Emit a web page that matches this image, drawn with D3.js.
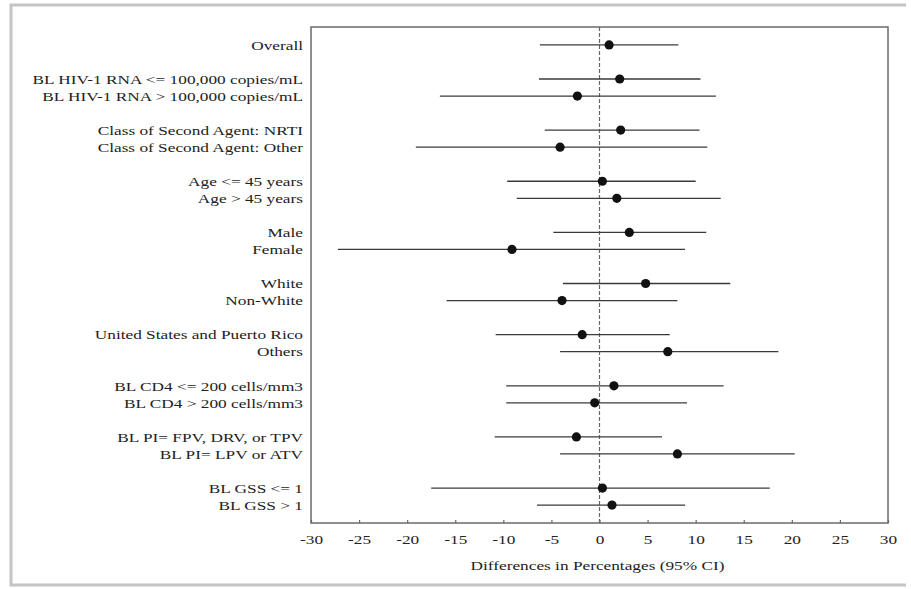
<!DOCTYPE html>
<html>
<head>
<meta charset="utf-8">
<script src="https://cdn.jsdelivr.net/npm/d3@7"></script>
<style>
  html, body { margin: 0; padding: 0; background: #fff; }
  svg { display: block; }
  text { font-family: "Liberation Serif", "DejaVu Serif", serif; fill: #222; }
</style>
</head>
<body>
<svg id="chart" width="911" height="589"></svg>
<script>
// Subgroup labels, top to bottom ("" marks a blank spacer row between groups)
const categories = [
  "Overall", "",
  "BL HIV-1 RNA <= 100,000 copies/mL", "BL HIV-1 RNA > 100,000 copies/mL", "",
  "Class of Second Agent: NRTI", "Class of Second Agent: Other", "",
  "Age <= 45 years", "Age > 45 years", "",
  "Male", "Female", "",
  "White", "Non-White", "",
  "United States and Puerto Rico", "Others", "",
  "BL CD4 <= 200 cells/mm3", "BL CD4 > 200 cells/mm3", "",
  "BL PI= FPV, DRV, or TPV", "BL PI= LPV or ATV", "",
  "BL GSS <= 1", "BL GSS > 1"
];

// Differences in percentages with 95% CI, one entry per labelled row
const estimates = [1.0, 2.1, -2.3, 2.2, -4.1, 0.3, 1.8, 3.1, -9.1, 4.8, -3.9, -1.8, 7.1, 1.5, -0.5, -2.4, 8.1, 0.3, 1.3];
const lower     = [-6.2, -6.3, -16.6, -5.7, -19.1, -9.6, -8.6, -4.8, -27.2, -3.8, -15.9, -10.8, -4.1, -9.7, -9.7, -10.9, -4.1, -17.5, -6.5];
const upper     = [8.2, 10.5, 12.1, 10.4, 11.2, 10.0, 12.6, 11.1, 8.9, 13.6, 8.1, 7.3, 18.6, 12.9, 9.1, 6.5, 20.3, 17.7, 8.9];

const xTicks = [-30, -25, -20, -15, -10, -5, 0, 5, 10, 15, 20, 25, 30];
const xTitle = "Differences in Percentages (95% CI)";

// Type is set in a horizontally widened serif
const stretch = 1.28;
const fontSize = "13.5px";

const svg = d3.select("#chart");

// Light outer border of the figure
svg.append("path")
  .attr("d", "M906,5 H11 V585 H906")
  .attr("fill", "none")
  .attr("stroke", "#c4c4c4")
  .attr("stroke-width", 3);

const frame = { left: 311, right: 888, top: 27, bottom: 523 };

const x = d3.scaleLinear().domain([-30, 30]).range([frame.left, frame.right]);

// Row keys keep spacer rows distinct in the point scale
const rowKeys = categories.map((c, i) => i + "|" + c);
const y = d3.scalePoint().domain(rowKeys).range([frame.top, frame.bottom]).padding(1.05);

const rows = [];
let k = 0;
categories.forEach((c, i) => {
  if (c !== "") {
    rows.push({ label: c, key: rowKeys[i], est: estimates[k], lo: lower[k], hi: upper[k] });
    k++;
  }
});

// Plot frame
svg.append("rect")
  .attr("x", frame.left).attr("y", frame.top)
  .attr("width", frame.right - frame.left).attr("height", frame.bottom - frame.top)
  .attr("fill", "none").attr("stroke", "#6a6a6a").attr("stroke-width", 1.5);

// Reference line at zero difference
svg.append("line")
  .attr("x1", x(0)).attr("x2", x(0))
  .attr("y1", frame.top).attr("y2", frame.bottom)
  .attr("stroke", "#666").attr("stroke-width", 1.2)
  .attr("stroke-dasharray", "4,2");

// Confidence intervals
svg.append("g").selectAll("line").data(rows).join("line")
  .attr("x1", d => x(d.lo)).attr("x2", d => x(d.hi))
  .attr("y1", d => y(d.key)).attr("y2", d => y(d.key))
  .attr("stroke", "#3a3a3a").attr("stroke-width", 1.3);

// Point estimates
svg.append("g").selectAll("circle").data(rows).join("circle")
  .attr("cx", d => x(d.est)).attr("cy", d => y(d.key))
  .attr("r", 4.6).attr("fill", "#111");

// Row labels
svg.append("g").selectAll("text").data(rows).join("text")
  .attr("transform", d => `translate(${frame.left - 8},${y(d.key)}) scale(${stretch},1)`)
  .attr("dy", "0.35em")
  .attr("text-anchor", "end")
  .style("font-size", fontSize)
  .text(d => d.label);

// Bottom axis (plain hyphen for negative values)
const axis = d3.axisBottom(x)
  .tickValues(xTicks)
  .tickSize(-3)
  .tickPadding(11)
  .tickFormat(d => String(d));
const gx = svg.append("g").attr("transform", `translate(0,${frame.bottom})`).call(axis);
gx.select(".domain").remove();
gx.selectAll(".tick line").attr("stroke", "#666").attr("stroke-width", 1.2);
gx.selectAll(".tick text")
  .attr("transform", `scale(${stretch},1)`)
  .style("font-family", "'Liberation Serif', serif")
  .style("font-size", fontSize)
  .attr("fill", "#333");

svg.append("text")
  .attr("transform", `translate(${(frame.left + frame.right) / 2 - 2},570) scale(${stretch},1)`)
  .attr("text-anchor", "middle")
  .style("font-size", fontSize)
  .text(xTitle);
</script>
</body>
</html>
